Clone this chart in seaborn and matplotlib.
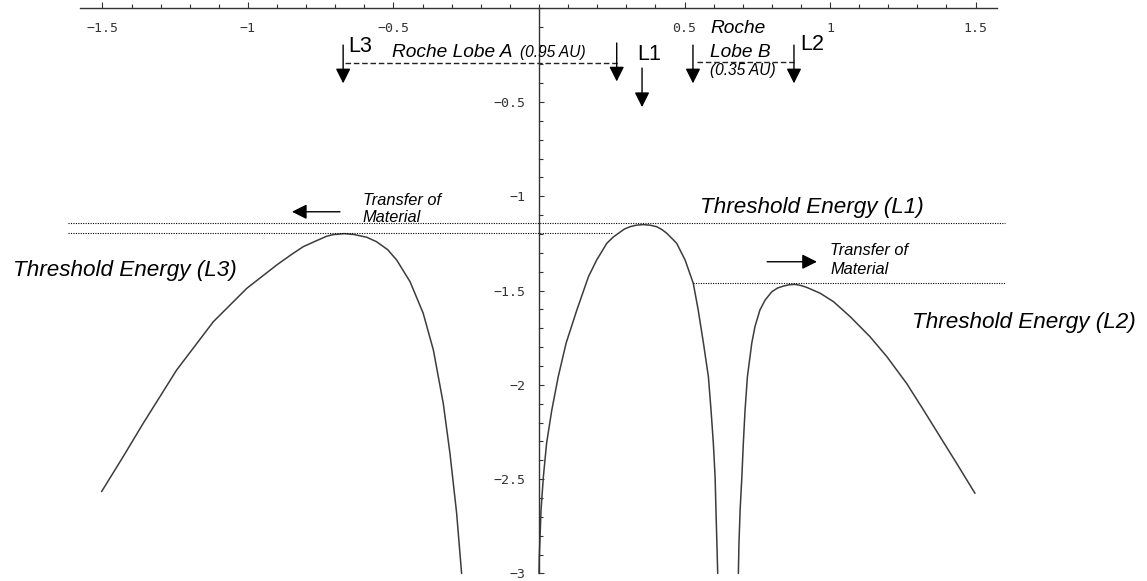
import numpy as np
import pandas as pd
import matplotlib
matplotlib.use("Agg")
import matplotlib.pyplot as plt
import seaborn as sns

# ---- data ----
left_x = [-1.503, -1.429, -1.360, -1.245, -1.119, -1.004, -0.901, -0.850, -0.810, -0.764,
          -0.730, -0.707, -0.670, -0.638, -0.592, -0.558, -0.520, -0.489, -0.443, -0.398,
          -0.363, -0.329, -0.306, -0.283, -0.266]
left_y = [-2.566, -2.381, -2.204, -1.921, -1.665, -1.488, -1.364, -1.308, -1.267, -1.235,
          -1.212, -1.203, -1.198, -1.202, -1.217, -1.241, -1.283, -1.338, -1.453, -1.620,
          -1.815, -2.098, -2.363, -2.681, -3.0]

mid_x = [0.000, 0.001, 0.007, 0.015, 0.026, 0.044, 0.066, 0.093, 0.130, 0.170, 0.198,
         0.233, 0.255, 0.273, 0.293, 0.313, 0.335, 0.358, 0.381, 0.404, 0.422, 0.439,
         0.473, 0.502, 0.530, 0.547, 0.565, 0.582, 0.591, 0.599, 0.605, 0.608, 0.614]
mid_y = [-3.0, -2.911, -2.663, -2.487, -2.310, -2.133, -1.957, -1.779, -1.603, -1.426,
         -1.338, -1.249, -1.216, -1.196, -1.174, -1.161, -1.153, -1.150, -1.153, -1.161,
         -1.176, -1.196, -1.249, -1.338, -1.461, -1.603, -1.779, -1.957, -2.133, -2.310,
         -2.487, -2.663, -3.0]

right_x = [0.685, 0.687, 0.691, 0.697, 0.702, 0.708, 0.716, 0.731, 0.742, 0.759, 0.777,
           0.800, 0.820, 0.840, 0.860, 0.880, 0.900, 0.920, 0.966, 1.012, 1.069, 1.137,
           1.195, 1.263, 1.321, 1.378, 1.435, 1.498]
right_y = [-3.0, -2.840, -2.663, -2.487, -2.310, -2.133, -1.957, -1.779, -1.691, -1.603,
           -1.550, -1.506, -1.486, -1.476, -1.469, -1.467, -1.473, -1.483, -1.514, -1.559,
           -1.638, -1.744, -1.850, -1.992, -2.133, -2.275, -2.416, -2.575]

threshold_L1 = -1.142
threshold_L3 = -1.195
threshold_L2 = -1.461

xtick_vals = [-1.5, -1.0, -0.5, 0.5, 1.0, 1.5]
xtick_labels = ["\u22121.5", "\u22121", "\u22120.5", "0.5", "1", "1.5"]
ytick_vals = [-0.5, -1.0, -1.5, -2.0, -2.5, -3.0]
ytick_labels = ["\u22120.5", "\u22121", "\u22121.5", "\u22122", "\u22122.5", "\u22123"]

df = pd.concat([
    pd.DataFrame({"x": left_x, "y": left_y, "branch": "left"}),
    pd.DataFrame({"x": mid_x, "y": mid_y, "branch": "mid"}),
    pd.DataFrame({"x": right_x, "y": right_y, "branch": "right"}),
], ignore_index=True)

# ---- figure ----
sns.set_theme(style="white")
plt.rcParams["font.family"] = ["Liberation Sans", "DejaVu Sans"]

fig = plt.figure(figsize=(11.47, 5.81), dpi=100)
ax = fig.add_axes([0, 0, 1, 1])
ax.set_facecolor("white")

sns.lineplot(data=df, x="x", y="y", units="branch", estimator=None, sort=False,
             color="#3c3c3c", lw=1.1, ax=ax, legend=False)

ax.set_xlim(-1.852, 2.089)
ax.set_ylim(-3.040, 0.041)
ax.set_xlabel("")
ax.set_ylabel("")

for s in ["right", "top"]:
    ax.spines[s].set_visible(False)
ax.spines["bottom"].set_position(("data", 0))
ax.spines["left"].set_position(("data", 0))
ax.spines["bottom"].set_bounds(-1.577, 1.574)
ax.spines["left"].set_bounds(-3, 0)
for s in ["bottom", "left"]:
    ax.spines[s].set_color("#333333")
    ax.spines[s].set_linewidth(1.0)

ax.set_xticks(xtick_vals)
ax.set_xticklabels(xtick_labels, fontfamily="DejaVu Sans Mono")
ax.set_xticks(np.round(np.arange(-1.5, 1.51, 0.1), 2), minor=True)
ax.set_yticks(ytick_vals)
ax.set_yticklabels(ytick_labels, fontfamily="DejaVu Sans Mono")
ax.set_yticks(np.round(np.arange(-3.0, 0.01, 0.1), 2), minor=True)
ax.tick_params(axis="x", which="both", bottom=True, top=False)
ax.tick_params(axis="y", which="both", left=True, right=False)
ax.tick_params(axis="x", which="major", direction="in", length=4.5, width=0.8,
               color="#333333", labelcolor="#333333", labelsize=9.5, pad=10)
ax.tick_params(axis="x", which="minor", direction="in", length=2.8, width=0.8,
               color="#333333")
ax.tick_params(axis="y", which="major", direction="in", length=3.5, width=0.8,
               color="#333333", labelcolor="#333333", labelsize=9.5, pad=10)
ax.tick_params(axis="y", which="minor", direction="in", length=3.0, width=0.8,
               color="#333333")
ax.grid(False)

# threshold dotted lines
dot = (0, (1, 1.2))
ax.hlines(threshold_L1, -1.62, 1.60, colors="black", lw=0.8, linestyles=[dot])
ax.hlines(threshold_L3, -1.62, 0.254, colors="black", lw=0.8, linestyles=[dot])
ax.hlines(threshold_L2, 0.529, 1.60, colors="black", lw=0.8, linestyles=[dot])

# Roche lobe dashed lines
ax.plot([-0.667, 0.278], [-0.292, -0.292], color="#222222", lw=1.0, ls=(0, (4, 2)))
ax.plot([0.543, 0.887], [-0.290, -0.290], color="#222222", lw=1.0, ls=(0, (4, 2)))

def arrow(p0, p1):
    ax.annotate("", xy=p1, xytext=p0,
                arrowprops=dict(arrowstyle="-|>,head_length=0.6,head_width=0.3",
                                color="black", lw=1.0, shrinkA=0, shrinkB=0,
                                mutation_scale=15))

arrow((-0.673, -0.198), (-0.673, -0.401))
arrow((0.267, -0.187), (0.267, -0.391))
arrow((0.354, -0.320), (0.354, -0.527))
arrow((0.529, -0.198), (0.529, -0.401))
arrow((0.876, -0.198), (0.876, -0.401))
arrow((-0.684, -1.082), (-0.849, -1.082))
arrow((0.784, -1.347), (0.955, -1.347))

# labels
kw = dict(va="baseline", ha="left", color="black", clip_on=False)
ax.text(-0.656, -0.236, "L3", fontsize=15.5, **kw)
ax.text(0.337, -0.277, "L1", fontsize=15.5, **kw)
ax.text(0.897, -0.224, "L2", fontsize=15.5, **kw)

ax.text(-0.505, -0.261, "Roche Lobe A", fontsize=13.8, style="italic", **kw)
ax.text(-0.065, -0.261, "(0.95 AU)", fontsize=11.2, style="italic", **kw)
ax.text(0.588, -0.134, "Roche", fontsize=13.8, style="italic", **kw)
ax.text(0.588, -0.261, "Lobe B", fontsize=13.8, style="italic", **kw)
ax.text(0.588, -0.357, "(0.35 AU)", fontsize=11.2, style="italic", **kw)

ax.text(-0.605, -1.046, "Transfer of", fontsize=11.8, style="italic", **kw)
ax.text(-0.605, -1.136, "Material", fontsize=11.8, style="italic", **kw)
ax.text(1.000, -1.311, "Transfer of", fontsize=11.8, style="italic", **kw)
ax.text(1.000, -1.412, "Material", fontsize=11.8, style="italic", **kw)

ax.text(0.553, -1.090, "Threshold Energy (L1)", fontsize=16.2, style="italic", **kw)
ax.text(-1.808, -1.423, "Threshold Energy (L3)", fontsize=16.2, style="italic", **kw)
ax.text(1.282, -1.698, "Threshold Energy (L2)", fontsize=16.2, style="italic", **kw)

fig.savefig("out.png", dpi=100, facecolor="white")
